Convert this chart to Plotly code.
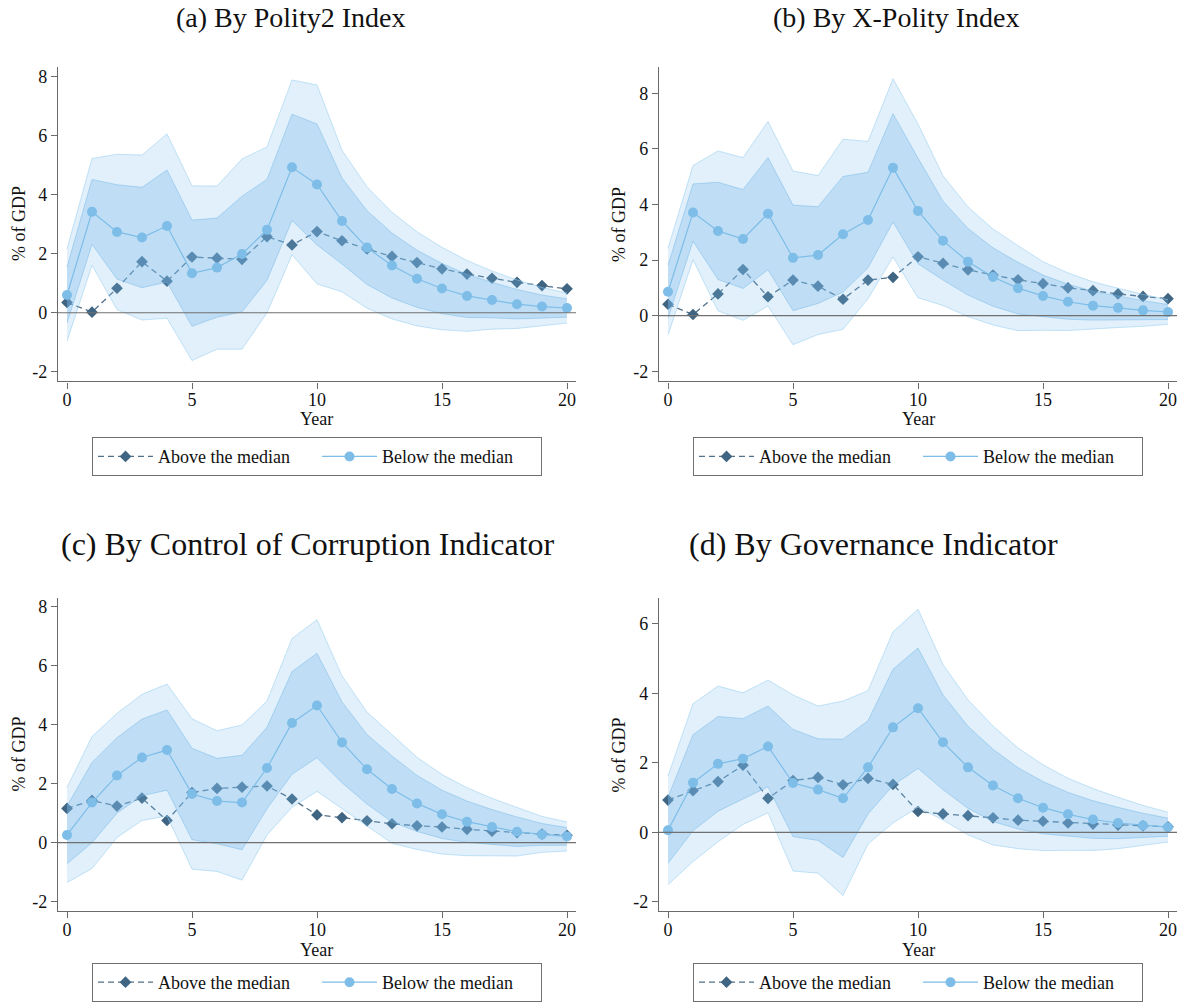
import plotly.graph_objects as go

# ---------------- data ----------------
years = list(range(21))

a_above = [0.35, 0.02, 0.83, 1.73, 1.07, 1.89, 1.85, 1.81, 2.58, 2.30, 2.75, 2.44, 2.16, 1.91, 1.70, 1.49, 1.31, 1.17, 1.03, 0.92, 0.81]
a_below = [0.60, 3.42, 2.74, 2.55, 2.94, 1.34, 1.53, 1.99, 2.81, 4.93, 4.35, 3.11, 2.21, 1.60, 1.15, 0.82, 0.57, 0.43, 0.29, 0.21, 0.16]
a_se = [0.95, 1.10, 1.60, 1.70, 1.90, 1.80, 1.68, 1.96, 1.71, 1.80, 2.05, 1.46, 1.25, 1.10, 0.97, 0.85, 0.73, 0.60, 0.50, 0.39, 0.31]

b_above = [0.41, 0.04, 0.78, 1.66, 0.68, 1.28, 1.06, 0.59, 1.28, 1.38, 2.12, 1.88, 1.65, 1.46, 1.29, 1.15, 1.00, 0.90, 0.78, 0.69, 0.61]
b_below = [0.86, 3.71, 3.05, 2.76, 3.67, 2.08, 2.18, 2.93, 3.44, 5.32, 3.77, 2.70, 1.94, 1.39, 0.99, 0.71, 0.50, 0.36, 0.28, 0.19, 0.13]
b_se = [0.95, 1.03, 1.75, 1.78, 2.02, 1.90, 1.74, 2.08, 1.72, 1.95, 1.90, 1.42, 1.20, 1.05, 0.93, 0.75, 0.63, 0.52, 0.43, 0.35, 0.27]

c_above = [1.16, 1.43, 1.24, 1.51, 0.75, 1.70, 1.84, 1.88, 1.92, 1.48, 0.94, 0.85, 0.74, 0.64, 0.57, 0.53, 0.45, 0.39, 0.34, 0.29, 0.25]
c_below = [0.26, 1.36, 2.28, 2.89, 3.14, 1.65, 1.41, 1.36, 2.53, 4.06, 4.65, 3.40, 2.49, 1.82, 1.33, 0.96, 0.71, 0.53, 0.37, 0.28, 0.21]
c_se = [0.98, 1.36, 1.28, 1.30, 1.36, 1.55, 1.45, 1.60, 1.38, 1.74, 1.77, 1.37, 1.18, 1.12, 0.95, 0.82, 0.70, 0.59, 0.50, 0.37, 0.30]

d_above = [0.93, 1.20, 1.46, 1.93, 0.98, 1.49, 1.58, 1.37, 1.55, 1.38, 0.60, 0.53, 0.48, 0.42, 0.35, 0.32, 0.27, 0.24, 0.21, 0.19, 0.16]
d_below = [0.06, 1.43, 1.97, 2.12, 2.47, 1.42, 1.23, 0.98, 1.87, 3.02, 3.57, 2.59, 1.87, 1.35, 0.98, 0.71, 0.52, 0.37, 0.27, 0.20, 0.15]
d_se = [0.95, 1.38, 1.36, 1.15, 1.16, 1.54, 1.46, 1.70, 1.34, 1.67, 1.73, 1.36, 1.18, 1.04, 0.88, 0.75, 0.63, 0.54, 0.45, 0.35, 0.26]

z_outer = 1.645   # 90% band
z_inner = 1.0     # 68% band

titles = ["(a) By Polity2 Index", "(b) By X-Polity Index",
          "(c) By Control of Corruption Indicator", "(d) By Governance Indicator"]
legend_names = ["Above the median", "Below the median"]
y_label = "% of GDP"
x_label = "Year"
x_ticks = [0, 5, 10, 15, 20]
y_ticks = [[-2, 0, 2, 4, 6, 8], [-2, 0, 2, 4, 6, 8], [-2, 0, 2, 4, 6, 8], [-2, 0, 2, 4, 6]]
y_ranges = [[-2.33, 8.34], [-2.37, 8.96], [-2.33, 8.31], [-2.27, 6.75]]

panels = [(a_above, a_below, a_se), (b_above, b_below, b_se),
          (c_above, c_below, c_se), (d_above, d_below, d_se)]

# ---------------- style ----------------
FONT = "Liberation Serif, Times New Roman, serif"
C_BELOW = "#7dbde8"
C_ABOVE = "#3f6582"
C_DASH = "#51708a"
OUTER_FILL = "rgba(120,185,235,0.22)"
INNER_FILL = "rgba(120,185,235,0.33)"
OUTER_EDGE = "rgba(150,205,240,0.55)"
INNER_EDGE = "rgba(110,180,230,0.45)"
AX = "#6a6a6a"
W, H = 1186, 1002

xdom = [[58 / W, 576 / W], [659 / W, 1177 / W], [58 / W, 576 / W], [659 / W, 1177 / W]]
ydom = [[1 - 383 / H, 1 - 67 / H], [1 - 383 / H, 1 - 67 / H],
        [1 - 915 / H, 1 - 600 / H], [1 - 915 / H, 1 - 600 / H]]

fig = go.Figure()
layout = dict(width=W, height=H, margin=dict(l=0, r=0, t=0, b=0),
              paper_bgcolor="white", plot_bgcolor="white",
              font=dict(family=FONT, size=18, color="#111"), showlegend=True)
annotations = []
shapes = []

title_x = [290, 896, 308, 874]
title_y = [18, 18, 546, 546]
title_size = [28, 28, 32, 32]

for i, (above, below, se) in enumerate(panels):
    k = "" if i == 0 else str(i + 1)
    xa, ya = "x" + k, "y" + k
    leg = "legend" + k
    o_hi = [m + z_outer * s for m, s in zip(below, se)]
    o_lo = [m - z_outer * s for m, s in zip(below, se)]
    i_hi = [m + z_inner * s for m, s in zip(below, se)]
    i_lo = [m - z_inner * s for m, s in zip(below, se)]

    # above-median series (drawn beneath the bands)
    fig.add_trace(go.Scatter(x=years, y=above, mode="lines+markers", name=legend_names[0],
                             xaxis=xa, yaxis=ya, legend=leg,
                             line=dict(color=C_DASH, width=1.3, dash="6px,4px"),
                             marker=dict(symbol="diamond", size=9, color=C_ABOVE)))
    # bands
    fig.add_trace(go.Scatter(x=years, y=o_hi, mode="lines", xaxis=xa, yaxis=ya,
                             line=dict(color=OUTER_EDGE, width=1), showlegend=False, hoverinfo="skip"))
    fig.add_trace(go.Scatter(x=years, y=o_lo, mode="lines", xaxis=xa, yaxis=ya, fill="tonexty",
                             fillcolor=OUTER_FILL, line=dict(color=OUTER_EDGE, width=1),
                             showlegend=False, hoverinfo="skip"))
    fig.add_trace(go.Scatter(x=years, y=i_hi, mode="lines", xaxis=xa, yaxis=ya,
                             line=dict(color=INNER_EDGE, width=1), showlegend=False, hoverinfo="skip"))
    fig.add_trace(go.Scatter(x=years, y=i_lo, mode="lines", xaxis=xa, yaxis=ya, fill="tonexty",
                             fillcolor=INNER_FILL, line=dict(color=INNER_EDGE, width=1),
                             showlegend=False, hoverinfo="skip"))
    # below-median series
    fig.add_trace(go.Scatter(x=years, y=below, mode="lines+markers", name=legend_names[1],
                             xaxis=xa, yaxis=ya, legend=leg,
                             line=dict(color=C_BELOW, width=1.2),
                             marker=dict(symbol="circle", size=10, color=C_BELOW)))

    axis_common = dict(showline=True, linecolor=AX, linewidth=1.2, ticks="outside", ticklen=6,
                       tickcolor=AX, tickwidth=1.2, showgrid=False, zeroline=False,
                       tickfont=dict(family=FONT, size=18, color="#111"))
    layout["xaxis" + k] = dict(axis_common, domain=xdom[i], anchor=ya, range=[-0.36, 20.36],
                               tickvals=x_ticks, ticklabelstandoff=-4)
    layout["yaxis" + k] = dict(axis_common, domain=ydom[i], anchor=xa, range=y_ranges[i],
                               tickvals=y_ticks[i], ticktext=[str(v) for v in y_ticks[i]])

    shapes.append(dict(type="line", xref=xa + " domain", yref=ya, x0=0, x1=1, y0=0, y1=0,
                       line=dict(color="#707070", width=1.2), layer="above"))

    cx = (xdom[i][0] + xdom[i][1]) / 2
    cy = (ydom[i][0] + ydom[i][1]) / 2
    top = i < 2
    annotations.append(dict(text=titles[i], xref="paper", yref="paper",
                            x=title_x[i] / W, y=1 - title_y[i] / H,
                            xanchor="center", yanchor="middle", showarrow=False,
                            font=dict(family=FONT, size=title_size[i], color="#111")))
    annotations.append(dict(text=x_label, xref="paper", yref="paper", x=cx,
                            y=1 - (421 if top else 954) / H, xanchor="center", yanchor="middle",
                            showarrow=False, font=dict(family=FONT, size=18, color="#111")))
    annotations.append(dict(text=y_label, xref="paper", yref="paper",
                            x=(19 if i % 2 == 0 else 619) / W, y=cy, textangle=-90,
                            xanchor="center", yanchor="middle",
                            showarrow=False, font=dict(family=FONT, size=18, color="#111")))

    layout[leg] = dict(orientation="h", x=cx, xanchor="center",
                       y=1 - (439 if top else 967) / H, yanchor="top",
                       bordercolor="#707070", borderwidth=1, bgcolor="white",
                       entrywidth=154, entrywidthmode="pixels", itemwidth=55,
                       font=dict(family=FONT, size=18, color="#111"), traceorder="normal")

layout["annotations"] = annotations
layout["shapes"] = shapes
fig.update_layout(**layout)
fig.write_html("out.html", config={"displayModeBar": False},
               post_script="document.body.style.margin='0px';document.body.style.overflow='hidden';")
